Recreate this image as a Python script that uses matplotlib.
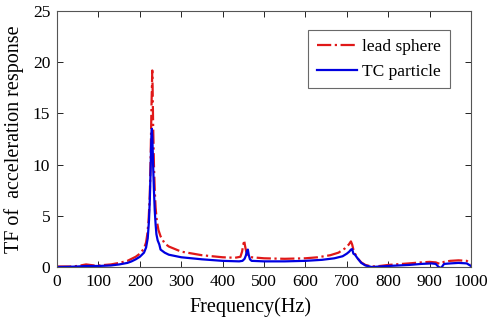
import matplotlib
matplotlib.use("Agg")
import matplotlib.pyplot as plt
import numpy as np

plt.rcParams['font.family'] = ['Liberation Serif', 'DejaVu Serif']

# Lead sphere (red dash-dot)
freq_lead = [0, 30, 50, 70, 90, 100, 130, 150, 170, 180, 190, 200, 210, 215, 218, 221, 224, 226, 228, 230,
             231, 232, 234, 236, 238, 241, 245, 250, 260, 270, 300, 350, 400, 430, 443, 447, 450, 452, 454,
             457, 460, 465, 470, 500, 550, 600, 630, 660, 680, 695, 705, 710, 713, 716, 720, 725, 735, 745,
             760, 780, 800, 850, 880, 900, 915, 925, 935, 950, 970, 990, 1000]
tf_lead = [0.05, 0.05, 0.1, 0.25, 0.15, 0.15, 0.25, 0.4, 0.6, 0.8, 1.0, 1.3, 1.8, 2.4, 3.2, 4.5, 7.0, 10.5, 15.5, 19.2,
           17.0, 14.0, 10.0, 7.5, 5.8, 4.5, 3.6, 3.0, 2.3, 2.0, 1.5, 1.15, 0.95, 0.9, 1.0, 1.5, 2.2, 2.6, 2.1,
           1.5, 1.2, 1.0, 0.95, 0.85, 0.8, 0.85, 0.95, 1.15, 1.4, 1.8, 2.2, 2.5, 2.2, 1.7, 1.3, 0.9, 0.45, 0.2,
           0.05, 0.1, 0.2, 0.35, 0.45, 0.5, 0.45, 0.3, 0.5, 0.6, 0.65, 0.6, 0.3]

# TC particle (blue solid)
freq_tc = [0, 30, 50, 70, 100, 130, 150, 170, 180, 190, 200, 210, 215, 219, 222, 224, 226, 227, 228, 229,
           230, 231, 232, 234, 236, 238, 240, 243, 247, 250, 260, 270, 300, 350, 400, 440, 448, 453, 456,
           459, 461, 463, 466, 470, 500, 550, 600, 640, 670, 690, 700, 706, 710, 713, 716, 720, 725, 735,
           745, 760, 780, 800, 850, 880, 905, 915, 922, 928, 935, 950, 970, 990, 1000]
tf_tc = [0.0, 0.02, 0.05, 0.1, 0.1, 0.15, 0.25, 0.4, 0.55, 0.75, 1.0, 1.4, 1.9, 2.8, 4.5, 6.5, 9.5, 11.5, 13.0, 13.5,
         12.8, 11.5, 10.0, 7.5, 5.5, 4.2, 3.2, 2.6, 2.2, 1.7, 1.4, 1.2, 0.95, 0.75, 0.6, 0.55, 0.6, 0.8, 1.1,
         1.6, 1.7, 1.2, 0.75, 0.6, 0.55, 0.55, 0.6, 0.7, 0.85, 1.05, 1.3, 1.5, 1.7, 1.75, 1.3, 1.2, 0.9, 0.4,
         0.15, 0.0, 0.05, 0.1, 0.2, 0.3, 0.35, 0.3, 0.0, -0.1, 0.3, 0.35, 0.4, 0.35, 0.1]

xticks = [0, 100, 200, 300, 400, 500, 600, 700, 800, 900, 1000]
yticks = [0, 5, 10, 15, 20, 25]

fig = plt.figure(figsize=(4.88, 3.26), dpi=100)
ax = fig.add_axes([0.117, 0.181, 0.848, 0.785])

ax.plot(freq_lead, tf_lead, color='#e01818', linestyle='-.', linewidth=1.6, label='lead sphere')
ax.plot(freq_tc, tf_tc, color='#0000e0', linestyle='-', linewidth=1.6, label='TC particle')

ax.set_xlim(0, 1000)
ax.set_ylim(0, 25)
ax.set_xticks(xticks)
ax.set_yticks(yticks)
ax.tick_params(direction='in', top=True, right=True, labelsize=12.5, length=4, width=0.6, pad=5)
for s in ax.spines.values():
    s.set_linewidth(0.8)
    s.set_color('#555555')

ax.set_xlabel('Frequency(Hz)', fontsize=14.5, labelpad=6)
ax.xaxis.set_label_coords(0.466, -0.12)
ax.set_ylabel('TF of  acceleration response', fontsize=14.5, labelpad=6)

leg = ax.legend(loc='upper right', bbox_to_anchor=(0.97, 0.96), fontsize=12.5, frameon=True, fancybox=False,
                edgecolor='#444444', handlelength=2.3, handletextpad=0.3, borderpad=0.5, labelspacing=0.5)
leg.get_frame().set_linewidth(0.8)

fig.savefig('out.png', dpi=100)
